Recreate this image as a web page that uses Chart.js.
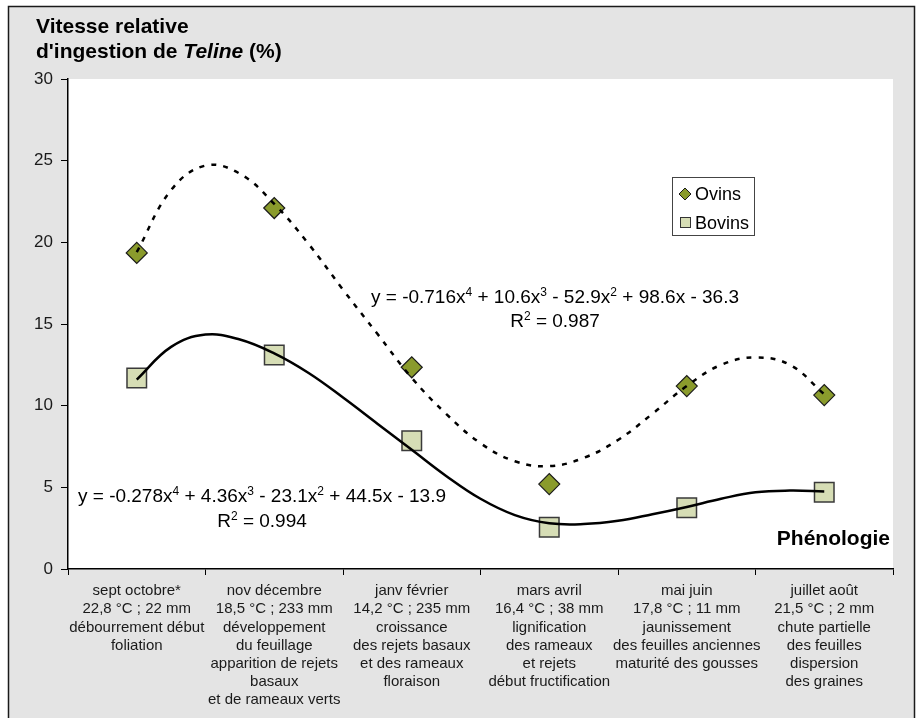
<!DOCTYPE html>
<html>
<head>
<meta charset="utf-8">
<script src="https://cdn.jsdelivr.net/npm/chart.js@4/dist/chart.umd.min.js"></script>
<style>
  html, body { margin: 0; padding: 0; background: #fff; }
  #wrap { width: 917px; height: 718px; }
</style>
</head>
<body>
<div id="wrap"><canvas id="chart" width="917" height="718"></canvas></div>
<script>
// Phenological periods (category labels, one line per array entry)
const periods = [
  ["sept octobre*", "22,8 °C ; 22 mm", "débourrement début", "foliation"],
  ["nov décembre", "18,5 °C ; 233 mm", "développement", "du feuillage", "apparition de rejets", "basaux", "et de rameaux verts"],
  ["janv février", "14,2 °C ; 235 mm", "croissance", "des rejets basaux", "et des rameaux", "floraison"],
  ["mars avril", "16,4 °C ; 38 mm", "lignification", "des rameaux", "et rejets", "début fructification"],
  ["mai juin", "17,8 °C ; 11 mm", "jaunissement", "des feuilles anciennes", "maturité des gousses"],
  ["juillet août", "21,5 °C ; 2 mm", "chute partielle", "des feuilles", "dispersion", "des graines"]
];
const periodPos = [1, 2, 3, 4, 5, 6];

// Relative ingestion speed of Teline (%)
const ovins = [19.35, 22.1, 12.35, 5.2, 11.2, 10.65];
const bovins = [11.7, 13.1, 7.85, 2.55, 3.75, 4.7];

// Polynomial trend curves (order 4), sampled along the period axis
const trendPos = [1, 1.25, 1.5, 1.75, 2, 2.25, 2.5, 2.75, 3, 3.25, 3.5, 3.75, 4, 4.25, 4.5, 4.75, 5, 5.25, 5.5, 5.75, 6];
const ovinsTrend = [19.4, 23.2, 24.7, 24.2, 22.35, 19.9, 17.1, 14.4, 11.7, 9.5, 7.7, 6.6, 6.3, 6.8, 7.9, 9.5, 11.2, 12.5, 12.95, 12.5, 10.7];
const bovinsTrend = [11.6, 13.6, 14.35, 14.05, 13.2, 12.0, 10.5, 8.9, 7.3, 5.7, 4.3, 3.3, 2.8, 2.75, 2.95, 3.35, 3.8, 4.3, 4.7, 4.8, 4.75];

// Trend equations: [text, superscript?] segments
const ovinsEquation = [["y = -0.716x"], ["4", true], [" + 10.6x"], ["3", true], [" - 52.9x"], ["2", true], [" + 98.6x - 36.3"]];
const ovinsR2 = [["R"], ["2", true], [" = 0.987"]];
const bovinsEquation = [["y = -0.278x"], ["4", true], [" + 4.36x"], ["3", true], [" - 23.1x"], ["2", true], [" + 44.5x - 13.9"]];
const bovinsR2 = [["R"], ["2", true], [" = 0.994"]];

const titleLine1 = [["Vitesse relative", false]];
const titleLine2 = [["d'ingestion de ", false], ["Teline", true], [" (%)", false]];
const axisName = "Phénologie";
const seriesNames = ["Ovins", "Bovins"];

const FONT = '"Liberation Sans", Arial, Helvetica, sans-serif';
const OLIVE = '#8a9b2c';
const PALE = '#d6ddb5';

function drawRich(ctx, segs, cx, y, size) {
  const supSize = Math.round(size * 0.62);
  let total = 0;
  const widths = segs.map(([t, sup]) => {
    ctx.font = (sup ? supSize : size) + 'px ' + FONT;
    const w = ctx.measureText(t).width;
    total += w;
    return w;
  });
  let x = cx - total / 2;
  ctx.textAlign = 'left';
  ctx.textBaseline = 'alphabetic';
  segs.forEach(([t, sup], i) => {
    ctx.font = (sup ? supSize : size) + 'px ' + FONT;
    ctx.fillText(t, x, sup ? y - size * 0.38 : y);
    x += widths[i];
  });
}

function drawTitleLine(ctx, segs, x, y) {
  ctx.textAlign = 'left';
  ctx.textBaseline = 'alphabetic';
  segs.forEach(([t, it]) => {
    ctx.font = (it ? 'italic ' : '') + 'bold 21px ' + FONT;
    ctx.fillText(t, x, y);
    x += ctx.measureText(t).width;
  });
}

function diamond(ctx, x, y, r) {
  ctx.beginPath();
  ctx.moveTo(x, y - r); ctx.lineTo(x + r, y); ctx.lineTo(x, y + r); ctx.lineTo(x - r, y);
  ctx.closePath();
}

const frame = {
  id: 'frame',
  beforeDraw(chart) {
    const ctx = chart.ctx, a = chart.chartArea;
    ctx.save();
    ctx.fillStyle = '#ffffff';
    ctx.fillRect(0, 0, chart.width, chart.height);
    ctx.fillStyle = '#e4e4e4';
    ctx.fillRect(8, 6, 907, 716);
    ctx.strokeStyle = '#1a1a1a';
    ctx.lineWidth = 1.5;
    ctx.strokeRect(8.5, 6.5, 906, 716);
    ctx.fillStyle = '#ffffff';
    ctx.fillRect(a.left, a.top, a.right - a.left, a.bottom - a.top);
    ctx.restore();
  },
  afterDraw(chart) {
    const ctx = chart.ctx;
    ctx.save();
    ctx.fillStyle = '#000';
    drawTitleLine(ctx, titleLine1, 36, 33);
    drawTitleLine(ctx, titleLine2, 36, 58);

    ctx.font = 'bold 21px ' + FONT;
    ctx.textAlign = 'right';
    ctx.fillText(axisName, 890, 545);

    ctx.fillStyle = '#000';
    drawRich(ctx, ovinsEquation, 555, 303, 19);
    drawRich(ctx, ovinsR2, 555, 327, 19);
    drawRich(ctx, bovinsEquation, 262, 502, 19);
    drawRich(ctx, bovinsR2, 262, 527, 19);

    // legend
    ctx.fillStyle = '#fff';
    ctx.fillRect(672, 177, 82, 58);
    ctx.strokeStyle = '#444';
    ctx.lineWidth = 1;
    ctx.strokeRect(672.5, 177.5, 82, 58);
    diamond(ctx, 685, 194, 6);
    ctx.fillStyle = OLIVE; ctx.fill();
    ctx.strokeStyle = '#1a1a1a'; ctx.lineWidth = 1; ctx.stroke();
    ctx.fillStyle = PALE;
    ctx.fillRect(680, 217, 11, 11);
    ctx.strokeStyle = '#333';
    ctx.strokeRect(680.5, 217.5, 10, 10);
    ctx.fillStyle = '#000';
    ctx.font = '18px ' + FONT;
    ctx.textAlign = 'left';
    ctx.fillText(seriesNames[0], 695, 200);
    ctx.fillText(seriesNames[1], 695, 229);
    ctx.restore();
  }
};

const toPoints = (xs, ys) => xs.map((x, i) => ({ x: x, y: ys[i] }));

new Chart(document.getElementById('chart'), {
  type: 'line',
  data: {
    labels: periods,
    datasets: [
      {
        label: 'Ovins (tendance)',
        data: toPoints(trendPos, ovinsTrend),
        xAxisID: 'xv',
        borderColor: '#000',
        borderWidth: 2.5,
        borderDash: [5, 7],
        pointRadius: 0,
        tension: 0.4,
        fill: false,
        order: 0
      },
      {
        label: 'Bovins (tendance)',
        data: toPoints(trendPos, bovinsTrend),
        xAxisID: 'xv',
        borderColor: '#000',
        borderWidth: 2.5,
        pointRadius: 0,
        tension: 0.4,
        fill: false,
        order: 0
      },
      {
        label: seriesNames[0],
        data: toPoints(periodPos, ovins),
        xAxisID: 'xv',
        showLine: false,
        pointStyle: 'rectRot',
        pointRadius: 10.5,
        pointBackgroundColor: OLIVE,
        pointBorderColor: '#1a1a1a',
        pointBorderWidth: 1.2,
        order: 1
      },
      {
        label: seriesNames[1],
        data: toPoints(periodPos, bovins),
        xAxisID: 'xv',
        showLine: false,
        pointStyle: 'rect',
        pointRadius: 13.8,
        pointBackgroundColor: PALE,
        pointBorderColor: '#3a3a3a',
        pointBorderWidth: 1.5,
        order: 1
      }
    ]
  },
  options: {
    responsive: false,
    animation: false,
    devicePixelRatio: 1,
    layout: { padding: { left: 0, right: 24, top: 79, bottom: 0 } },
    plugins: { legend: { display: false }, tooltip: { enabled: false } },
    scales: {
      x: {
        type: 'category',
        position: 'bottom',
        offset: true,
        grid: { offset: true, drawOnChartArea: false, drawTicks: true, tickLength: 6, color: '#000', lineWidth: 1 },
        border: { color: '#000', width: 1.5 },
        ticks: {
          font: { size: 15, family: FONT, lineHeight: 1.21 },
          color: '#1a1a1a',
          padding: 7,
          maxRotation: 0,
          autoSkip: false
        },
        afterFit(scale) { scale.height = 149; }
      },
      xv: { type: 'linear', display: false, min: 0.5, max: 6.5 },
      y: {
        min: 0,
        max: 30,
        ticks: { stepSize: 5, font: { size: 17, family: FONT }, color: '#1a1a1a', padding: 8 },
        grid: { drawOnChartArea: false, drawTicks: true, tickLength: 7, color: '#000', lineWidth: 1 },
        border: { color: '#000', width: 1.5 },
        afterFit(scale) { scale.width = 68; }
      }
    }
  },
  plugins: [frame]
});
</script>
</body>
</html>
